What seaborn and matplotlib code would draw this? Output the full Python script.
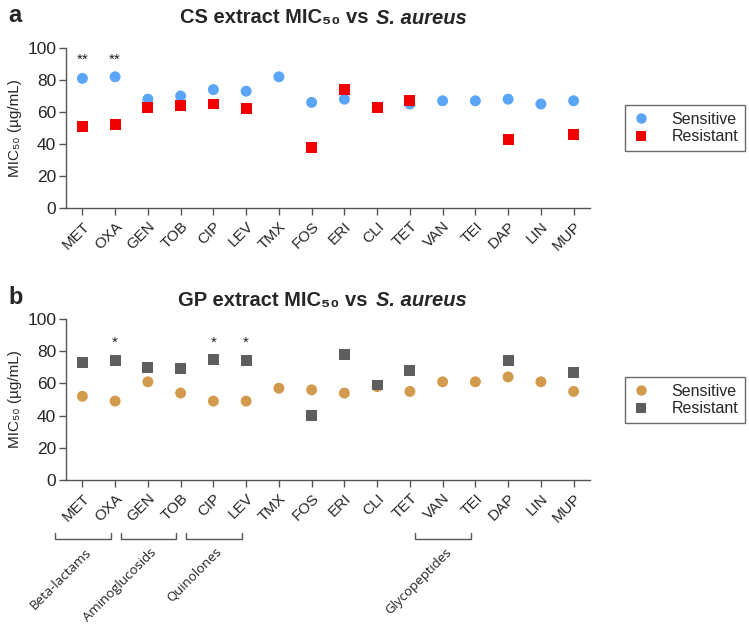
import numpy as np
import pandas as pd
import matplotlib
matplotlib.use("Agg")
import matplotlib.pyplot as plt
import matplotlib.transforms as mtransforms
from matplotlib.lines import Line2D
import seaborn as sns

antibiotics = ["MET", "OXA", "GEN", "TOB", "CIP", "LEV", "TMX", "FOS",
               "ERI", "CLI", "TET", "VAN", "TEI", "DAP", "LIN", "MUP"]

cs_sensitive = [81, 82, 68, 70, 74, 73, 82, 66, 68, 63, 65, 67, 67, 68, 65, 67]
cs_resistant = [51, 52, 63, 64, 65, 62, np.nan, 38, 74, 63, 67, np.nan, np.nan, 43, np.nan, 46]

gp_sensitive = [52, 49, 61, 54, 49, 49, 57, 56, 54, 58, 55, 61, 61, 64, 61, 55]
gp_resistant = [73, 74, 70, 69, 75, 74, np.nan, 40, 78, 59, 68, np.nan, np.nan, 74, np.nan, 67]

cs_stars = {"MET": "**", "OXA": "**"}
gp_stars = {"OXA": "*", "CIP": "*", "LEV": "*"}

groups = [("Beta-lactams", ["MET", "OXA"]),
          ("Aminoglucosids", ["GEN", "TOB"]),
          ("Quinolones", ["CIP", "LEV"]),
          ("Glycopeptides", ["VAN", "TEI"])]

sns.set_theme(style="ticks")
plt.rcParams['font.family'] = ['Liberation Sans', 'DejaVu Sans']

W, H = 749, 624
fig = plt.figure(figsize=(W / 100, H / 100), dpi=100)


def px_axes(l, t, r, b):
    return fig.add_axes([l / W, 1 - b / H, (r - l) / W, (b - t) / H])


def make_df(sens, res):
    return pd.DataFrame({
        "antibiotic": antibiotics * 2,
        "MIC50": list(sens) + list(res),
        "group": ["Sensitive"] * len(antibiotics) + ["Resistant"] * len(antibiotics),
    })


def panel(ax, sens, res, colors, stars, star_y, title_y, letter, extract, leg_center):
    df = make_df(sens, res).dropna()
    df["antibiotic"] = pd.Categorical(df["antibiotic"], categories=antibiotics, ordered=True)
    sns.scatterplot(data=df, x="antibiotic", y="MIC50", hue="group", style="group",
                    hue_order=["Sensitive", "Resistant"], style_order=["Sensitive", "Resistant"],
                    palette={"Sensitive": colors[0], "Resistant": colors[1]},
                    markers={"Sensitive": "o", "Resistant": "s"},
                    s=62, linewidth=0, ax=ax, legend=False, zorder=3)
    ax.set_xlim(-0.5, len(antibiotics) - 0.5)
    ax.set_ylim(0, 100)
    ax.set_yticks([0, 20, 40, 60, 80, 100])
    ax.set_xticks(range(len(antibiotics)))
    ax.set_xticklabels(antibiotics, rotation=45, ha="right", rotation_mode="anchor", fontsize=11)
    ax.tick_params(axis="y", labelsize=12.5, length=5, width=1, color="#555555", pad=2)
    ax.tick_params(axis="x", length=5, width=1, color="#555555", pad=3)
    ax.set_xlabel("")
    ax.set_ylabel("MIC₅₀ (µg/mL)", fontsize=11, labelpad=4)
    sns.despine(ax=ax)
    for sp in ["left", "bottom"]:
        ax.spines[sp].set_color("#555555")
        ax.spines[sp].set_linewidth(1)
    for name, st in stars.items():
        ax.text(antibiotics.index(name), star_y, st, ha="center", va="center", fontsize=11, color="#222222")
    # title
    fig.text(368 / W, title_y, f"{extract} extract MIC₅₀ vs", ha="right", va="center",
             fontsize=14.5, fontweight="bold")
    fig.text(376 / W, title_y, "S. aureus", ha="left", va="center",
             fontsize=14.5, fontweight="bold", style="italic")
    fig.text(8 / W, title_y + 0.004, letter, ha="left", va="center", fontsize=17, fontweight="bold")
    handles = [Line2D([], [], marker="o", linestyle="", markersize=7.5, markerfacecolor=colors[0],
                      markeredgewidth=0),
               Line2D([], [], marker="s", linestyle="", markersize=7, markerfacecolor=colors[1],
                      markeredgewidth=0)]
    leg = ax.legend(handles, ["Sensitive", "Resistant"], loc="center",
                    bbox_to_anchor=(leg_center[0] / W, 1 - leg_center[1] / H),
                    bbox_transform=fig.transFigure, frameon=True, fancybox=False,
                    fontsize=11.5, handletextpad=1.3, borderpad=0.4, labelspacing=0.15,
                    handlelength=1.2, borderaxespad=0)
    leg.get_frame().set_edgecolor("#444444")
    leg.get_frame().set_linewidth(1)


ax_a = px_axes(66, 48, 590, 208)
panel(ax_a, cs_sensitive, cs_resistant, ("#5aa5f5", "#f00000"), cs_stars, 92.5,
      1 - 18 / H, "a", "CS", (685, 128))

ax_b = px_axes(66, 319, 590, 480)
panel(ax_b, gp_sensitive, gp_resistant, ("#d29a4c", "#5e5e5e"), gp_stars, 85,
      1 - 300 / H, "b", "GP", (685, 400))

# group brackets under panel b
trans = mtransforms.blended_transform_factory(ax_b.transData, ax_b.transAxes)
y_br = (480 - 539) / 161
y_end = (480 - 533) / 161
for label, members in groups:
    i0 = antibiotics.index(members[0])
    i1 = antibiotics.index(members[-1])
    x0, x1 = i0 - 0.83, i1 - 0.14
    ax_b.plot([x0, x0, x1, x1], [y_end, y_br, y_br, y_end], transform=trans,
              color="#555555", lw=1, clip_on=False)
    ax_b.text((x0 + x1) / 2 + 0.05, y_br - 0.04, label, transform=trans, rotation=45,
              ha="right", va="top", rotation_mode="anchor", fontsize=9.5,
              family=["Open Sans", "DejaVu Sans"], color="#222222")

fig.savefig("out.png", dpi=100)
